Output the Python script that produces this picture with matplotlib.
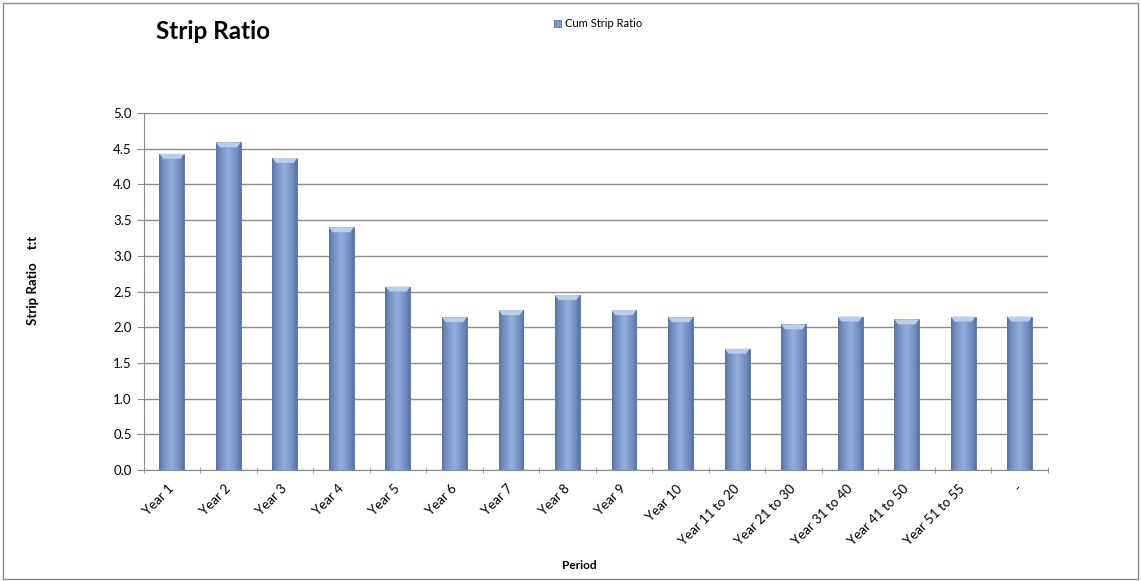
import matplotlib.pyplot as plt
import numpy as np
from matplotlib.patches import Rectangle, Polygon

# Datos
periods = ['Year 1', 'Year 2', 'Year 3', 'Year 4', 'Year 5', 'Year 6', 'Year 7',
           'Year 8', 'Year 9', 'Year 10', 'Year 11 to 20', 'Year 21 to 30',
           'Year 31 to 40', 'Year 41 to 50', 'Year 51 to 55', '-']
cum_strip_ratio = [4.43, 4.59, 4.37, 3.40, 2.57, 2.14, 2.24, 2.45, 2.24, 2.14,
                   1.70, 2.04, 2.15, 2.11, 2.15, 2.15]

plt.rcParams['font.family'] = ['Lato', 'DejaVu Sans']

fig = plt.figure(figsize=(11.41, 5.81), dpi=100)
ax = fig.add_axes([0.1258, 0.191, 0.7927, 0.6145])

x = np.arange(len(periods))
bars = ax.bar(x, cum_strip_ratio, width=0.44, color='#7F9ACB', edgecolor='#5A72A0',
              linewidth=0.6, zorder=3, label='Cum Strip Ratio')

# Degradado horizontal dentro de cada barra
t = np.linspace(0, 1, 64)
shade = 1 - np.abs(t - 0.5) * 2
dark = np.array([0x55, 0x6F, 0xA2]) / 255
light = np.array([0x92, 0xAE, 0xDE]) / 255
grad = np.zeros((2, 64, 3))
for i in range(2):
    grad[i] = dark + (light - dark) * shade[:, None] ** 0.7
for b in bars:
    bx, by = b.get_x(), b.get_y()
    w, h = b.get_width(), b.get_height()
    im = ax.imshow(grad, extent=[bx, bx + w, by, by + h], aspect='auto', zorder=3.5,
                   interpolation='bilinear')
    im.set_clip_path(b)
    # biselado superior
    top = by + h
    ax.add_patch(Polygon([(bx, top), (bx + w, top), (bx + w * 0.85, top - 0.07),
                          (bx + w * 0.15, top - 0.07)], closed=True,
                         facecolor='#B9CDEE', edgecolor='none', zorder=4))

ax.set_xlim(-0.5, len(periods) - 0.5)
ax.set_ylim(0, 5)
ax.set_yticks(np.arange(0, 5.01, 0.5))
ax.set_yticklabels([f'{v:.1f}' for v in np.arange(0, 5.01, 0.5)], fontsize=9.5)
ax.yaxis.grid(True, color='#8C8C8C', linewidth=1.0, zorder=0)
ax.set_axisbelow(True)

ax.set_xticks(x)
ax.set_xticklabels(periods, rotation=45, ha='right', va='center',
                   rotation_mode='anchor', fontsize=9.5)
ax.tick_params(axis='x', length=0, pad=12)
ax.set_xticks(np.arange(-0.5, len(periods)), minor=True)
ax.tick_params(axis='x', which='minor', length=5, direction='inout', color='#8C8C8C')
ax.tick_params(axis='y', length=5, color='#8C8C8C')

for s in ['top', 'right']:
    ax.spines[s].set_visible(False)
ax.spines['left'].set_color('#8C8C8C')
ax.spines['bottom'].set_color('#8C8C8C')

fig.text(0.508, 0.027, 'Period', fontsize=8.5, fontweight='bold', ha='center', va='center')
fig.text(0.029, 0.518, 'Strip Ratio    t:t', rotation=90, fontsize=9.5, fontweight='bold',
         ha='center', va='center')

fig.text(0.187, 0.945, 'Strip Ratio', fontsize=17.5, fontweight='bold', ha='center', va='center')
ax.legend(loc='center', bbox_to_anchor=(0.524, 0.959), bbox_transform=fig.transFigure,
          frameon=False, fontsize=8, handlelength=0.7, handleheight=0.7, handletextpad=0.3)

fig.patches.append(Rectangle((0.003, 0.003), 0.994, 0.992, transform=fig.transFigure,
                             fill=False, edgecolor='#8C8C8C', linewidth=1.0))

plt.savefig('out.png', dpi=100)
